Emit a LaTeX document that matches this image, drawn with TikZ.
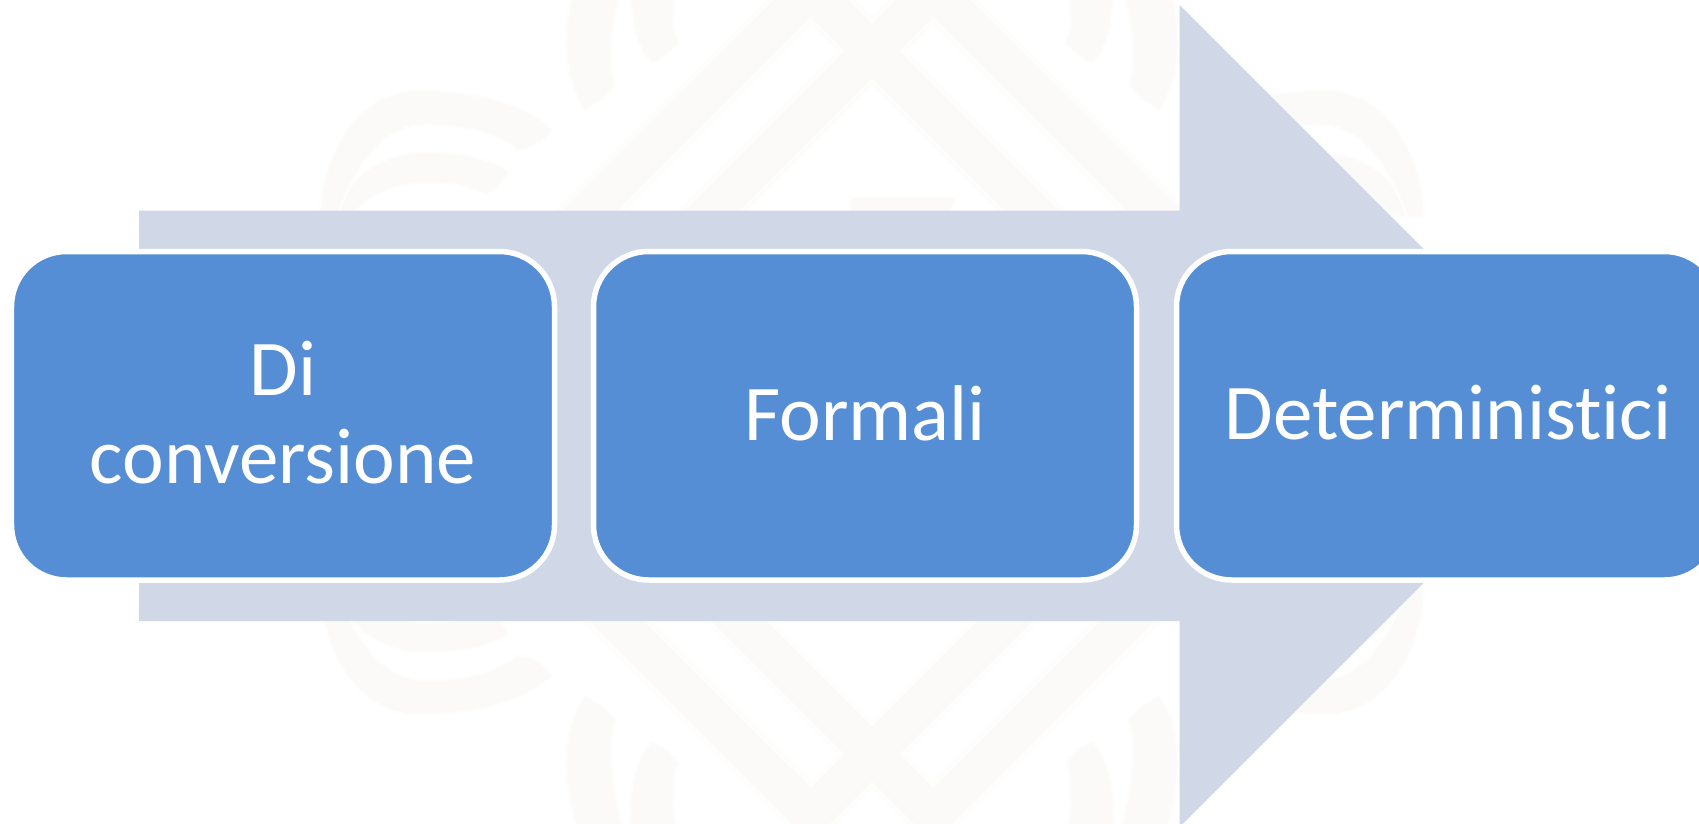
\documentclass[tikz,border=0pt]{standalone}
\usepackage{fontspec}
\setmainfont{Carlito}[Ligatures=NoCommon]
\definecolor{arrowfill}{HTML}{D0D7E7}
\definecolor{boxfill}{HTML}{558ED5}
\definecolor{markfill}{HTML}{FBFAF9}
\definecolor{markhalo}{HTML}{FDFDFC}
\tikzset{
  stagebox/.style={draw=white,line width=5.5bp,fill=boxfill,rounded corners=55bp,
    minimum width=543bp,minimum height=328.5bp,inner sep=0pt,text=white,align=center,
    text depth=6bp,font=\fontsize{79bp}{88bp}\selectfont},
  bandhalo/.style={draw=markhalo,line width=49bp,miter limit=10},
  bandcore/.style={draw=markfill,line width=38bp,miter limit=10},
  shapehalo/.style={fill=markhalo,draw=markhalo,line width=5bp},
  shapecore/.style={fill=markfill,draw=markfill,line width=0.5bp}
}
% #1 = style of the chevrons, #2 = style of the curved pieces
\newcommand{\quartermark}[2]{%
  \draw[#1] (480,320) -- (811,-10) -- (1131,310);
  \path[#2] (321,215) .. controls (327,132) and (375,92) .. (415,92)
    .. controls (480,92) and (528,107) .. (550,130)
    .. controls (543,140) and (530,148) .. (518,148)
    .. controls (495,130) and (460,123) .. (425,123)
    .. controls (385,123) and (355,160) .. (336,215) -- cycle;
  \path[#2] (340,215) .. controls (350,172) and (390,154) .. (426,154)
    .. controls (460,154) and (490,160) .. (507,172)
    .. controls (501,181) and (495,188) .. (487,193)
    .. controls (470,185) and (450,181) .. (426,181)
    .. controls (395,181) and (365,195) .. (350,215) -- cycle;
  \path[#2] (579,-25) .. controls (558,40) and (570,85) .. (585,108)
    .. controls (595,102) and (606,95) .. (614,85)
    .. controls (605,60) and (612,20) .. (621,-25) -- cycle;
  \path[#2] (633,-25) .. controls (629,20) and (640,50) .. (652,61)
    .. controls (662,58) and (670,50) .. (677,42)
    .. controls (670,25) and (670,0) .. (676,-25) -- cycle;
}
\newcommand{\wholemark}[2]{%
  \begin{scope}
    \quartermark{#1}{#2}
  \end{scope}
  \begin{scope}[xshift=1744bp,xscale=-1]
    \quartermark{#1}{#2}
  \end{scope}
  \begin{scope}[yshift=-805bp,yscale=-1]
    \quartermark{#1}{#2}
  \end{scope}
  \begin{scope}[xshift=1744bp,xscale=-1,yshift=-805bp,yscale=-1]
    \quartermark{#1}{#2}
  \end{scope}
  \path[#2] (851,198) -- (955,198) -- (948,212) -- (851,212) -- cycle;
}
\begin{document}
\begin{tikzpicture}[x=1bp,y=-1bp]
  \useasboundingbox (0,0) rectangle (1699,824);
  \clip (0,0) rectangle (1699,824);
  \fill[white] (0,0) rectangle (1699,824);
  % faint watermark, symmetric about x=872 and y=402.5
  \wholemark{bandhalo}{shapehalo}
  \wholemark{bandcore}{shapecore}
  % background arrow
  \fill[arrowfill] (139,210.7) -- (1179.5,210.7) -- (1179.5,5) -- (1590.5,416)
    -- (1179.5,827) -- (1179.5,621) -- (139,621) -- cycle;
  % stages
  \node[stagebox] (conv) at (283,415.75) {Di\\conversione};
  \node[stagebox] (formali) at (865,415.75) {Formali};
  \node[stagebox] (det) at (1448,415.75) {Deterministici};
\end{tikzpicture}
\end{document}
